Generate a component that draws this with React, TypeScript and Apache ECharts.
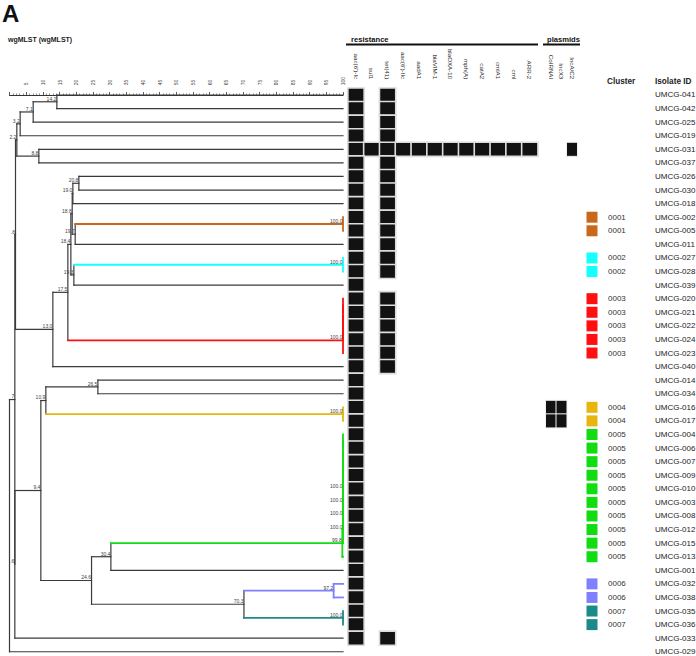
import React, { useEffect, useRef } from "react";
import * as echarts from "echarts";

const isolateIds = [
  "UMCG-041", "UMCG-042", "UMCG-025", "UMCG-019", "UMCG-031", "UMCG-037", "UMCG-026",
  "UMCG-030", "UMCG-018", "UMCG-002", "UMCG-005", "UMCG-011", "UMCG-027", "UMCG-028",
  "UMCG-039", "UMCG-020", "UMCG-021", "UMCG-022", "UMCG-024", "UMCG-023", "UMCG-040",
  "UMCG-014", "UMCG-034", "UMCG-016", "UMCG-017", "UMCG-004", "UMCG-006", "UMCG-007",
  "UMCG-009", "UMCG-010", "UMCG-003", "UMCG-008", "UMCG-012", "UMCG-015", "UMCG-013",
  "UMCG-001", "UMCG-032", "UMCG-038", "UMCG-035", "UMCG-036", "UMCG-033", "UMCG-029",
];

const clusterCodes = [
  "", "", "", "", "", "", "",
  "", "", "0001", "0001", "", "0002", "0002",
  "", "0003", "0003", "0003", "0003", "0003", "",
  "", "", "0004", "0004", "0005", "0005", "0005",
  "0005", "0005", "0005", "0005", "0005", "0005", "0005",
  "", "0006", "0006", "0007", "0007", "", "",
];

const clusterColorList = [
  ["0001", "#c9681c"],
  ["0002", "#14ffff"],
  ["0003", "#ff0f0f"],
  ["0004", "#e6b50f"],
  ["0005", "#11dd11"],
  ["0006", "#8080ff"],
  ["0007", "#1a8a8a"],
];

const resistanceGenes = [
  "aac(6')-Ic", "sul1", "tet(41)", "aac(6')-IIc", "aadA1", "blaVIM-1",
  "blaOXA-10", "mph(A)", "catA2", "cmlA1", "cml", "ARR-2",
];
const plasmidReplicons = ["CoIRNAI", "IncX3", "IncA/C2"];

// one string per isolate (row order), one character per gene: 1 = present
const resistanceProfiles = [
  "101000000000", "101000000000", "101000000000", "101000000000", "111111111111",
  "101000000000", "101000000000", "101000000000", "101000000000", "101000000000",
  "101000000000", "101000000000", "101000000000", "101000000000", "100000000000",
  "101000000000", "101000000000", "101000000000", "101000000000", "101000000000",
  "101000000000", "100000000000", "100000000000", "100000000000", "100000000000",
  "100000000000", "100000000000", "100000000000", "100000000000", "100000000000",
  "100000000000", "100000000000", "100000000000", "100000000000", "100000000000",
  "100000000000", "100000000000", "100000000000", "100000000000", "100000000000",
  "101000000000", "000000000000",
];
const plasmidProfiles = [
  "000", "000", "000", "000", "001", "000", "000", "000", "000", "000", "000",
  "000", "000", "000", "000", "000", "000", "000", "000", "000", "000", "000",
  "000", "110", "110", "000", "000", "000", "000", "000", "000", "000", "000",
  "000", "000", "000", "000", "000", "000", "000", "000", "000",
];

// dendrogram nodes: [id, similarity (%), printed label, child A, child B]
const treeNodes = [
  ["a1", 14.2, "14.2", "UMCG-041", "UMCG-042"],
  ["a2", 7.1, "7.1", "a1", "UMCG-025"],
  ["a3", 3.2, "3.2", "a2", "UMCG-019"],
  ["a4", 8.8, "8.8", "UMCG-031", "UMCG-037"],
  ["a5", 2.2, "2.2", "a3", "a4"],
  ["b1", 20.8, "20.8", "UMCG-026", "UMCG-030"],
  ["b2", 19.0, "19.0", "b1", "UMCG-018"],
  ["c1", 100, "100.0", "UMCG-002", "UMCG-005"],
  ["c2", 19.7, "19.7", "c1", "UMCG-011"],
  ["b3", 18.8, "18.8", "b2", "c2"],
  ["d1", 100, "100.0", "UMCG-027", "UMCG-028"],
  ["d2", 19.3, "19.3", "d1", "UMCG-039"],
  ["b4", 18.4, "18.4", "b3", "d2"],
  ["r1", 100, "", "UMCG-020", "UMCG-021"],
  ["r2", 100, "", "r1", "UMCG-022"],
  ["r3", 100, "", "r2", "UMCG-024"],
  ["r4", 100, "100.0", "r3", "UMCG-023"],
  ["b5", 17.5, "17.5", "b4", "r4"],
  ["b6", 13.0, "13.0", "b5", "UMCG-040"],
  ["k1", 1.8, ".8", "a5", "b6"],
  ["e1", 26.5, "26.5", "UMCG-014", "UMCG-034"],
  ["y1", 100, "100.0", "UMCG-016", "UMCG-017"],
  ["e2", 10.9, "10.9", "e1", "y1"],
  ["g1", 100, "", "UMCG-004", "UMCG-006"],
  ["g2", 100, "", "g1", "UMCG-007"],
  ["g3", 100, "", "g2", "UMCG-009"],
  ["g4", 100, "", "g3", "UMCG-010"],
  ["g5", 100, "100.0", "g4", "UMCG-003"],
  ["g6", 100, "100.0", "g5", "UMCG-008"],
  ["g7", 100, "100.0", "g6", "UMCG-012"],
  ["g8", 100, "100.0", "g7", "UMCG-015"],
  ["g9", 99.8, "99.8", "g8", "UMCG-013"],
  ["f1", 30.4, "30.4", "g9", "UMCG-001"],
  ["p1", 97.2, "97.2", "UMCG-032", "UMCG-038"],
  ["t1", 100, "100.0", "UMCG-035", "UMCG-036"],
  ["f2", 70.3, "70.3", "p1", "t1"],
  ["f3", 24.6, "24.6", "f1", "f2"],
  ["e3", 9.4, "9.4", "e2", "f3"],
  ["k2", 1.6, ".6", "e3", "UMCG-033"],
  ["k3", 1.6, "7", "k1", "k2"],
  ["k4", 0, "", "k3", "UMCG-029"],
];

// cluster assigned to the top node of each 100%-type cluster
const clusterRootNodes = [
  ["c1", "0001"], ["d1", "0002"], ["r4", "0003"], ["y1", "0004"],
  ["g9", "0005"], ["p1", "0006"], ["t1", "0007"],
];

const FONT = "'Liberation Sans', Arial, Helvetica, sans-serif";
const LINE_COLOR = "#3a3a3a";
const ROW_TOP = 88.2;
const ROW_H = 13.58;

function buildDendrogram() {
  const clusterColor = new Map(clusterColorList.map(([c, col]) => [c, col]));
  const rootColor = new Map(clusterRootNodes.map(([id, c]) => [id, clusterColor.get(c)]));
  const rowOf = new Map(isolateIds.map((id, i) => [id, i]));
  const nodeMap = new Map<string, any>();
  treeNodes.forEach(([id, sim, label, a, b]) => nodeMap.set(id as string, { sim, label, a, b }));
  const posCache = new Map<string, { x: number; y: number }>();
  const pos = (id: string): { x: number; y: number } => {
    if (posCache.has(id)) return posCache.get(id)!;
    let p;
    if (rowOf.has(id)) p = { x: 100, y: rowOf.get(id)! };
    else {
      const n = nodeMap.get(id);
      const pa = pos(n.a);
      const pb = pos(n.b);
      p = { x: n.sim, y: (pa.y + pb.y) / 2 };
    }
    posCache.set(id, p);
    return p;
  };
  const segs: number[][] = [];
  const segCols: string[] = [];
  const labels: { x: number; y: number; text: string }[] = [];
  const walk = (id: string, color: string | null) => {
    const n = nodeMap.get(id);
    if (!n) return;
    const c = rootColor.get(id) || color;
    const p = pos(id);
    const pa = pos(n.a);
    const pb = pos(n.b);
    segs.push([p.x, pa.y, p.x, pb.y]);
    segCols.push(c || LINE_COLOR);
    [n.a, n.b].forEach((ch: string) => {
      const cc = rootColor.get(ch) || c;
      const pc = pos(ch);
      segs.push([p.x, pc.y, pc.x, pc.y]);
      segCols.push(cc || LINE_COLOR);
      walk(ch, cc);
    });
    if (n.label) labels.push({ x: p.x, y: p.y, text: n.label });
  };
  walk("k4", null);
  return { segs, segCols, labels, clusterColor };
}

export default function App() {
  const ref = useRef<HTMLDivElement>(null);
  useEffect(() => {
    if (!ref.current) return;
    const chart = echarts.init(ref.current, null, { renderer: "svg" });
    const { segs, segCols, labels, clusterColor } = buildDendrogram();
    const nRows = isolateIds.length;
    const gridH = nRows * ROW_H;

    const resData: number[][] = [];
    resistanceProfiles.forEach((p, r) =>
      p.split("").forEach((ch, g) => { if (ch === "1") resData.push([g, r, 1]); })
    );
    const plasData: number[][] = [];
    plasmidProfiles.forEach((p, r) =>
      p.split("").forEach((ch, g) => { if (ch === "1") plasData.push([g, r, 1]); })
    );
    const clusterData: any[] = [];
    clusterCodes.forEach((c, r) => {
      if (c) clusterData.push({ value: [0.5, r], code: c, itemStyle: { color: clusterColor.get(c), opacity: 1 } });
    });

    const gridBase = { top: ROW_TOP, height: gridH, containLabel: false, outerBoundsMode: "none" };
    const hiddenRowAxis = (gi: number) => ({
      gridIndex: gi, type: "category", data: isolateIds, inverse: true, show: false,
    });
    const geneAxis = (gi: number, data: string[]) => ({
      gridIndex: gi, type: "category", position: "top", data,
      axisLine: { show: false }, axisTick: { show: false }, splitLine: { show: false },
      axisLabel: { rotate: 90, fontSize: 6.2, margin: 9, interval: 0, color: "#2a2a2a", fontFamily: FONT },
    });

    const option: any = {
      animation: false,
      textStyle: { fontFamily: FONT },
      visualMap: {
        type: "piecewise", show: false, seriesIndex: [2, 3], dimension: 2,
        pieces: [{ min: 0.5, max: 1.5, color: "#121212" }],
      },
      grid: [
        { ...gridBase, left: 9.5, width: 333.5 },
        { ...gridBase, left: 348.1, width: 189.6 },
        { ...gridBase, left: 545.75, width: 31.5 },
        { ...gridBase, left: 586.5, width: 11 },
      ],
      xAxis: [
        {
          gridIndex: 0, type: "value", position: "top", min: 0, max: 100, interval: 5, offset: 1,
          axisLine: { show: true, lineStyle: { color: "#333", width: 1 } },
          axisTick: { show: true, length: 3, lineStyle: { color: "#333", width: 0.8 } },
          minorTick: { show: true, splitNumber: 5, length: 1.5, lineStyle: { color: "#444", width: 0.6 } },
          splitLine: { show: false }, minorSplitLine: { show: false },
          axisLabel: {
            rotate: 90, fontSize: 5, margin: 2, color: "#444",
            formatter: (v: number) => (v === 0 ? "" : String(v)),
          },
        },
        geneAxis(1, resistanceGenes),
        geneAxis(2, plasmidReplicons),
        { gridIndex: 3, type: "value", min: 0, max: 1, show: false, splitLine: { show: false } },
      ],
      yAxis: [
        { gridIndex: 0, type: "value", min: -0.5, max: nRows - 0.5, inverse: true, show: false, splitLine: { show: false } },
        hiddenRowAxis(1),
        hiddenRowAxis(2),
        {
          gridIndex: 3, type: "category", data: isolateIds, inverse: true, position: "right",
          axisLine: { show: false }, axisTick: { show: false }, splitLine: { show: false },
          axisLabel: { margin: 57.5, fontSize: 8, color: "#222", interval: 0, align: "left" },
        },
      ],
      series: [
        {
          type: "custom", xAxisIndex: 0, yAxisIndex: 0, clip: false, silent: true,
          data: segs,
          renderItem: (params: any, api: any) => {
            const p1 = api.coord([api.value(0), api.value(1)]);
            const p2 = api.coord([api.value(2), api.value(3)]);
            const col = segCols[params.dataIndex];
            return {
              type: "line",
              shape: { x1: p1[0], y1: p1[1], x2: p2[0], y2: p2[1] },
              style: { stroke: col, lineWidth: col === LINE_COLOR ? 1.2 : 1.8, lineCap: "square" },
            };
          },
        },
        {
          type: "custom", xAxisIndex: 0, yAxisIndex: 0, clip: false, silent: true, z: 5,
          data: labels.map((l) => [l.x, l.y]),
          renderItem: (params: any, api: any) => {
            const p = api.coord([api.value(0), api.value(1)]);
            return {
              type: "text",
              style: {
                x: p[0] - 0.5, y: p[1] - 0.6, text: labels[params.dataIndex].text,
                align: "right", verticalAlign: "bottom", fontSize: 5, fill: "#444", fontFamily: FONT,
              },
            };
          },
        },
        {
          type: "heatmap", xAxisIndex: 1, yAxisIndex: 1, data: resData,
          itemStyle: { borderColor: "#dcdcdc", borderWidth: 1.6 }, emphasis: { disabled: true }, silent: true,
        },
        {
          type: "heatmap", xAxisIndex: 2, yAxisIndex: 2, data: plasData,
          itemStyle: { borderColor: "#f0f0f0", borderWidth: 1 }, emphasis: { disabled: true }, silent: true,
        },
        {
          type: "scatter", xAxisIndex: 3, yAxisIndex: 3, symbol: "rect", symbolSize: 11,
          data: clusterData, silent: true, itemStyle: { opacity: 1 },
          label: {
            show: true, position: "right", distance: 10.5, fontSize: 8, color: "#333",
            formatter: (p: any) => p.data.code,
          },
        },
      ],
      graphic: [
        { type: "text", x: 2, y: 1, style: { text: "A", fontSize: 24, fontWeight: "bold", fill: "#111", verticalAlign: "top", fontFamily: FONT } },
        { type: "text", x: 8, y: 39, style: { text: "wgMLST (wgMLST)", fontSize: 7, fontWeight: "bold", fill: "#222", verticalAlign: "middle", fontFamily: FONT } },
        { type: "text", x: 351, y: 39, style: { text: "resistance", fontSize: 7.6, fontWeight: "bold", fill: "#111", verticalAlign: "middle", fontFamily: FONT } },
        { type: "line", shape: { x1: 346, y1: 44.5, x2: 538, y2: 44.5 }, style: { stroke: "#111", lineWidth: 2 } },
        { type: "text", x: 547, y: 39, style: { text: "plasmids", fontSize: 7.6, fontWeight: "bold", fill: "#111", verticalAlign: "middle", width: 35, overflow: "truncate", ellipsis: "", fontFamily: FONT } },
        { type: "line", shape: { x1: 543, y1: 44.5, x2: 580, y2: 44.5 }, style: { stroke: "#111", lineWidth: 2 } },
        { type: "text", x: 607, y: 81, style: { text: "Cluster", fontSize: 8.2, fontWeight: "bold", fill: "#222", verticalAlign: "middle", fontFamily: FONT } },
        { type: "text", x: 655, y: 81, style: { text: "Isolate ID", fontSize: 8.2, fontWeight: "bold", fill: "#222", verticalAlign: "middle", fontFamily: FONT } },
      ],
    };
    chart.setOption(option);
    return () => chart.dispose();
  }, []);
  return (
    <div
      ref={ref}
      style={{ position: "absolute", left: 0, top: 0, width: 696, height: 656, background: "#fff" }}
    />
  );
}
